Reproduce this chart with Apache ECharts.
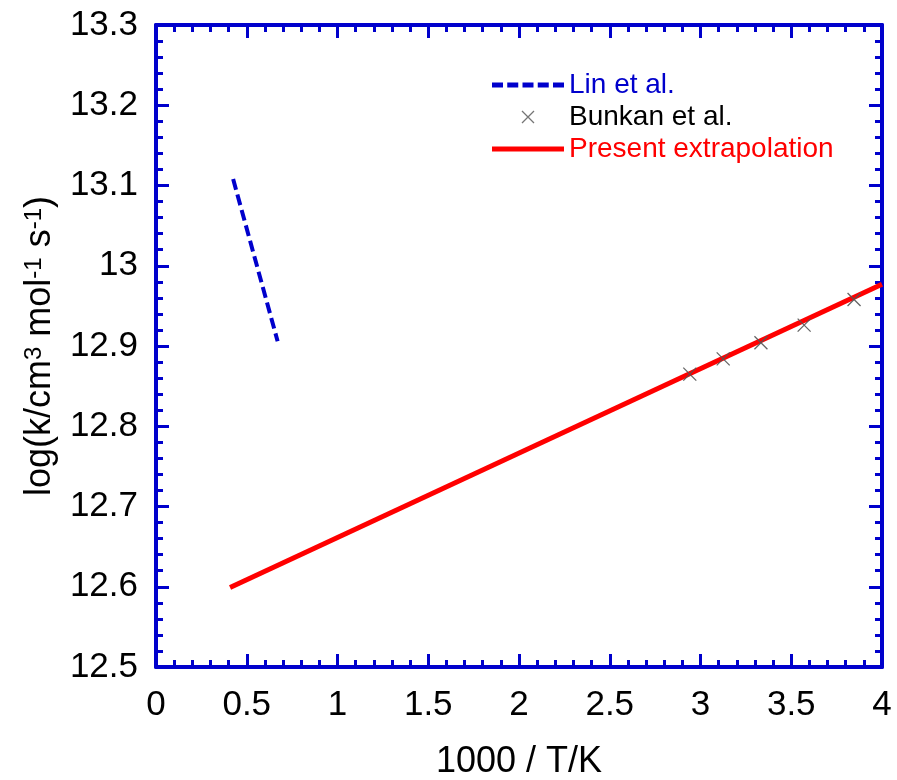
<!DOCTYPE html>
<html><head><meta charset="utf-8">
<script src="https://cdn.jsdelivr.net/npm/echarts@6/dist/echarts.min.js"></script>
<style>html,body{margin:0;padding:0;background:#fff}#c{width:897px;height:780px}</style>
</head><body><div id="c"></div>
<script>
// Data
const linX = [0.425, 0.67];
const linY = [13.108, 12.906];
const bunkanX = [2.941, 3.125, 3.333, 3.571, 3.846];
const bunkanY = [12.865, 12.884, 12.904, 12.926, 12.958];
const presentX = [0.408, 4.0];
const presentY = [12.599, 12.977];
const xTicks = {min: 0, max: 4, interval: 0.5};
const yTicks = {min: 12.5, max: 13.3, interval: 0.1};
const seriesNames = ['Lin et al.', 'Bunkan et al.', 'Present extrapolation'];

const BLUE = '#0000CC';
const RED = '#FF0000';
const FONT = 'Liberation Sans';
const zip = (a, b) => a.map((v, i) => [v, b[i]]);

// legend icons (72 x 16 box)
const ICON_DASH = 'path://M0,0L0.01,0L0,0.01Z M72,16L71.99,16L72,15.99Z ' +
  'M0,5.5h11v5h-11Z M15.25,5.5h11v5h-11Z M30.5,5.5h11v5h-11Z M45.75,5.5h11v5h-11Z M61,5.5h11v5h-11Z';
const ICON_SOLID = 'path://M0,0L0.01,0L0,0.01Z M72,16L71.99,16L72,15.99Z M0,5.5h72v5h-72Z';
const X_SYMBOL = 'path://M0,0L10,10M10,0L0,10';

function xAx(pos, show) {
  return {
    type: 'value', position: pos, min: xTicks.min, max: xTicks.max, interval: xTicks.interval,
    axisLine: {show: true, onZero: false, lineStyle: {color: BLUE, width: 4}},
    axisTick: {show: true, inside: true, length: 13, lineStyle: {color: BLUE, width: 3}},
    minorTick: {show: true, splitNumber: 5, length: 7, lineStyle: {color: BLUE, width: 3}},
    splitLine: {show: false},
    axisLabel: {show: show, color: '#000', fontFamily: FONT, fontSize: 35, margin: 21},
    name: show ? '1000 / T/K' : '', nameLocation: 'middle', nameGap: 77,
    nameTextStyle: {color: '#000', fontFamily: FONT, fontSize: 36}
  };
}
function yAx(pos, show) {
  return {
    type: 'value', position: pos, min: yTicks.min, max: yTicks.max, interval: yTicks.interval,
    axisLine: {show: true, onZero: false, lineStyle: {color: BLUE, width: 4}},
    axisTick: {show: true, inside: true, length: 13, lineStyle: {color: BLUE, width: 3}},
    minorTick: {show: true, splitNumber: 5, length: 7, lineStyle: {color: BLUE, width: 3}},
    splitLine: {show: false},
    axisLabel: {show: show, color: '#000', fontFamily: FONT, fontSize: 35, margin: 18},
    name: show ? 'log(k/cm{sup|3} mol{sup|-1} s{sup|-1})' : '', nameLocation: 'middle', nameGap: 98,
    nameTextStyle: {color: '#000', fontFamily: FONT, fontSize: 36,
      rich: {sup: {fontFamily: FONT, fontSize: 24, verticalAlign: 'top', color: '#000'}}}
  };
}

const chart = echarts.init(document.getElementById('c'), null, {renderer: 'canvas'});
chart.setOption({
  animation: false,
  backgroundColor: '#fff',
  grid: {left: 156, top: 25, right: 15, bottom: 113, containLabel: false, outerBoundsMode: 'none'},
  xAxis: [xAx('bottom', true), xAx('top', false)],
  yAxis: [yAx('left', true), yAx('right', false)],
  legend: {
    orient: 'vertical', left: 487, top: 66, itemWidth: 72, itemHeight: 16, itemGap: 4,
    textStyle: {fontFamily: FONT, fontSize: 28},
    data: [
      {name: seriesNames[0], icon: ICON_DASH, itemStyle: {color: BLUE, borderWidth: 0}, textStyle: {color: BLUE}},
      {name: seriesNames[1], icon: 'path://M2,2L14,14M14,2L2,14M0,0L0,0M16,16L16,16',
       itemStyle: {color: 'none', borderColor: '#666', borderWidth: 1.3}, textStyle: {color: '#000'}},
      {name: seriesNames[2], icon: ICON_SOLID, itemStyle: {color: RED, borderWidth: 0}, textStyle: {color: RED}}
    ]
  },
  series: [
    {name: seriesNames[0], type: 'line', data: zip(linX, linY), showSymbol: false, symbol: 'none',
     lineStyle: {color: BLUE, width: 4, type: [11, 5]}, itemStyle: {color: BLUE}, z: 3},
    {name: seriesNames[2], type: 'line', data: zip(presentX, presentY), showSymbol: false, symbol: 'none',
     lineStyle: {color: RED, width: 5}, itemStyle: {color: RED}, z: 2},
    {name: seriesNames[1], type: 'scatter', data: zip(bunkanX, bunkanY),
     symbol: X_SYMBOL, symbolSize: 13,
     itemStyle: {color: 'none', borderColor: '#555', borderWidth: 1.3, opacity: 0.9}, z: 4}
  ]
});
</script></body></html>
